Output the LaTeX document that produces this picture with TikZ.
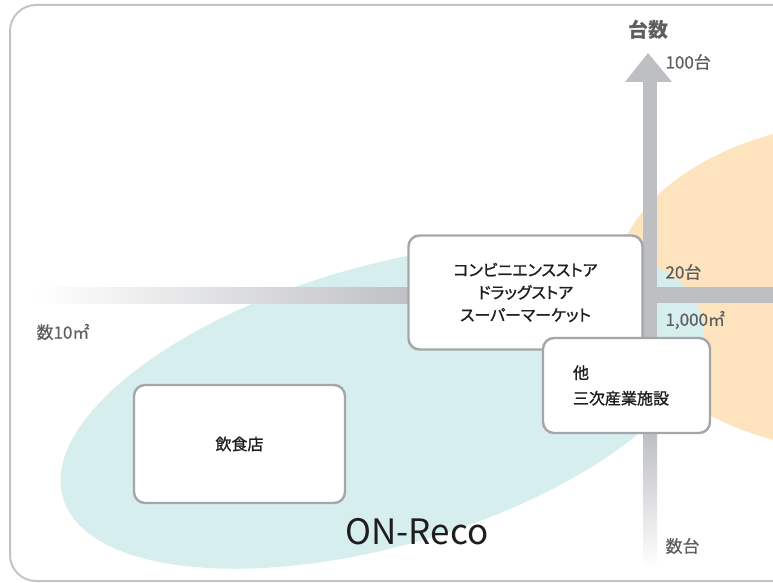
\documentclass[tikz,border=0pt]{standalone}
\usepackage{fontspec}
\setmainfont{Noto Sans CJK JP}
\newfontfamily\boxjp[FakeBold=1.2, RawFeature=+palt]{Noto Sans CJK JP}
\newfontfamily\labeljp[FakeBold=0.6]{Noto Sans CJK JP}
\usetikzlibrary{positioning}

\definecolor{framegray}{HTML}{C4C4C8}
\definecolor{axisgray}{HTML}{BEBFC3}
\definecolor{orangefill}{HTML}{FDE3BE}
\definecolor{tealfill}{HTML}{D7EEEF}
\definecolor{boxgray}{HTML}{A5A6AA}
\definecolor{labelgray}{HTML}{5E5E60}
\definecolor{boxtext}{HTML}{1E1E1E}

\begin{document}
\begin{tikzpicture}[x=1pt, y=-1pt,
    infobox/.style={draw=boxgray, line width=2.4pt, fill=white, rounded corners=11pt,
      text=boxtext, font=\boxjp\fontsize{16}{22.5}\selectfont},
    axislabel/.style={text=labelgray, anchor=west, font=\labeljp\fontsize{17}{20}\selectfont}]
    \clip (0,0) rectangle (773,583);

    % Frame
    \draw[framegray, line width=2pt, rounded corners=26pt] (10,5) rectangle (810,581);

    % Regions
    \fill[orangefill] (880,287) ellipse [x radius=266, y radius=167];
    \fill[tealfill, rotate around={16:(382,406)}] (382,406) ellipse [x radius=332, y radius=140];

    % Horizontal axis
    \shade[left color=white, right color=axisgray] (35,287) rectangle (420,303);
    \fill[axisgray] (419,287) rectangle (773,303);

    % Vertical axis
    \fill[axisgray] (643,80) rectangle (657,434);
    \shade[top color=axisgray, bottom color=white] (643,433) rectangle (657,568);
    \fill[axisgray] (625,82) -- (648,53) -- (672,82) -- cycle;

    % Axis labels
    \node[text=labelgray, font=\fontsize{20}{24}\selectfont\bfseries] (units) at (648,30) {台数};
    \node[axislabel] (hundred) at (662,62) {100台};
    \node[axislabel] (twenty) at (662,272) {20台};
    \node[axislabel] (large) at (662,320) {1,000㎡};
    \node[axislabel] (small) at (33,332) {数10㎡};
    \node[axislabel] (few) at (662,546) {数台};

    % Boxes
    \node[infobox, minimum width=234, minimum height=114, align=center] (retail) at (525.5,292.5)
      {コンビニエンスストア\\ドラッグストア\\スーパーマーケット};
    \node[infobox, text width=107, inner xsep=30, minimum height=95, align=left] (other) at (626.5,385.5)
      {他\\[3pt]三次産業施設};
    \node[infobox, minimum width=211, minimum height=118] (food) at (239.5,444) {飲食店};

    % Name
    \node[text=boxtext, font=\fontsize{35}{40}\selectfont] (brand) at (417,532) {ON-Reco};
\end{tikzpicture}
\end{document}
